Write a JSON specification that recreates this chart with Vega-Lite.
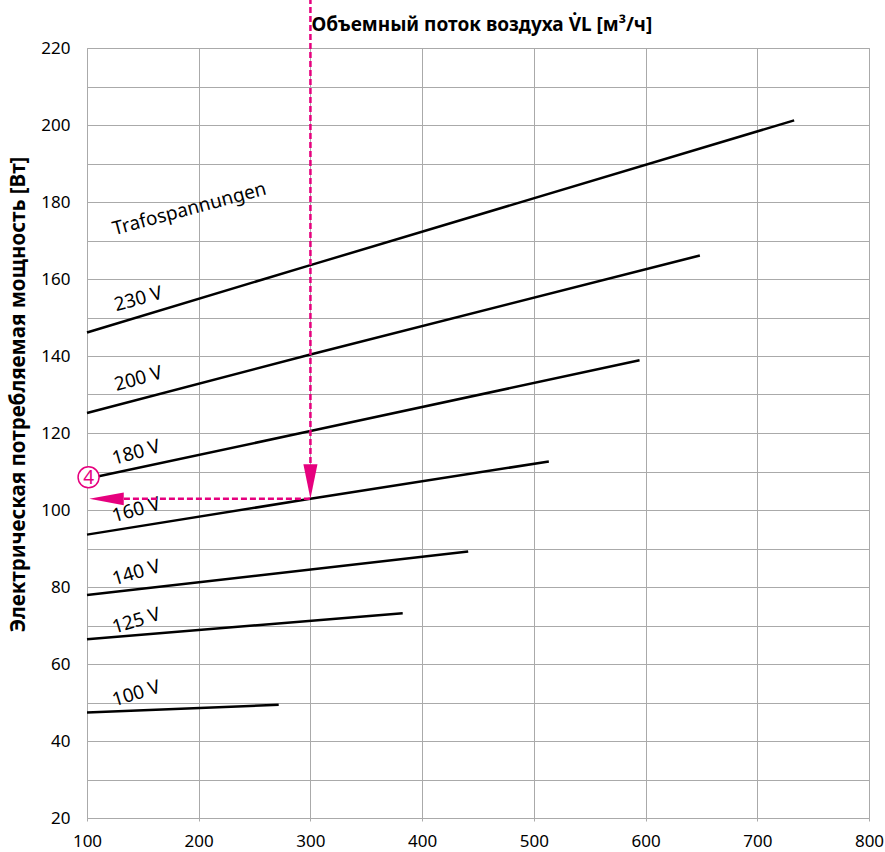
{
  "$schema": "https://vega.github.io/schema/vega-lite/v6.json",
  "autosize": "none",
  "width": 782,
  "height": 770,
  "padding": {"left": 87, "top": 48, "right": 16, "bottom": 34},
  "background": "white",
  "config": {
    "font": "Noto Sans",
    "view": {"stroke": "#aaaaaa", "strokeWidth": 1},
    "axis": {"labelFont": "Noto Sans", "labelColor": "#000000", "gridColor": "#aaaaaa", "gridWidth": 1, "gridOpacity": 1, "domain": false}
  },
  "datasets": {
    "lines": [
      {"series": "230 V", "x": 100, "y": 146.1},
      {"series": "230 V", "x": 300, "y": 163.6},
      {"series": "230 V", "x": 733, "y": 201.2},
      {"series": "200 V", "x": 100, "y": 125.2},
      {"series": "200 V", "x": 300, "y": 140.4},
      {"series": "200 V", "x": 648.6, "y": 166.1},
      {"series": "180 V", "x": 100, "y": 108.1},
      {"series": "180 V", "x": 300, "y": 120.5},
      {"series": "180 V", "x": 594.6, "y": 138.9},
      {"series": "160 V", "x": 100, "y": 93.6},
      {"series": "160 V", "x": 300, "y": 102.9},
      {"series": "160 V", "x": 513.4, "y": 112.6},
      {"series": "140 V", "x": 100, "y": 77.9},
      {"series": "140 V", "x": 441.2, "y": 89.2},
      {"series": "125 V", "x": 100, "y": 66.4},
      {"series": "125 V", "x": 382.6, "y": 73.2},
      {"series": "100 V", "x": 100, "y": 47.4},
      {"series": "100 V", "x": 271.6, "y": 49.4}
    ],
    "labels": [
      {"label": "Trafospannungen", "x": 191.6, "y": 178.2},
      {"label": "230 V", "x": 146, "y": 154.8},
      {"label": "200 V", "x": 146, "y": 134.1},
      {"label": "180 V", "x": 144, "y": 114.9},
      {"label": "160 V", "x": 144, "y": 100},
      {"label": "140 V", "x": 144, "y": 83.7},
      {"label": "125 V", "x": 144, "y": 71.2},
      {"label": "100 V", "x": 144, "y": 52.3}
    ],
    "guides": [
      {"seg": "v", "x": 300, "y": 233},
      {"seg": "v", "x": 300, "y": 110},
      {"seg": "h", "x": 300, "y": 102.9},
      {"seg": "h", "x": 125, "y": 102.9}
    ],
    "marker": [
      {"x": 101.4, "y": 108.5, "text": "4"}
    ],
    "arrowDown": [{"x": 300, "y": 102.9}],
    "arrowLeft": [{"x": 102, "y": 102.9}]
  },
  "encoding": {
    "x": {
      "field": "x", "type": "quantitative",
      "scale": {"domain": [100, 800], "nice": false, "zero": false},
      "axis": {
        "values": [100, 200, 300, 400, 500, 600, 700, 800],
        "grid": true,
        "ticks": true,
        "tickSize": 3,
        "tickColor": "#aaaaaa",
        "labelFontSize": 17,
        "labelPadding": 12,
        "labelFlush": false,
        "title": "Объемный поток воздуха V̇L [м³/ч]",
        "titleFont": "Noto Sans",
        "titleFontSize": 19,
        "titleFontWeight": "bold",
        "titleColor": "#000000",
        "titleAlign": "left",
        "titleAnchor": "start",
        "titleBaseline": "alphabetic",
        "titleX": 224,
        "titleY": -788
      }
    },
    "y": {
      "field": "y", "type": "quantitative",
      "scale": {"domain": [20, 220], "nice": false, "zero": false},
      "axis": {
        "values": [20, 30, 40, 50, 60, 70, 80, 90, 100, 110, 120, 130, 140, 150, 160, 170, 180, 190, 200, 210, 220],
        "labelExpr": "datum.value % 20 === 0 ? datum.label : ''",
        "grid": true,
        "ticks": false,
        "labelFontSize": 17,
        "labelPadding": 17,
        "labelFlush": false,
        "title": "Электрическая потребляемая мощность [Вт]",
        "titleFont": "Noto Sans",
        "titleFontSize": 20.5,
        "titleFontWeight": "bold",
        "titleColor": "#000000",
        "titleAngle": 270,
        "titleAlign": "center",
        "titleBaseline": "alphabetic",
        "titleX": -63,
        "titleY": 346
      }
    }
  },
  "layer": [
    {
      "data": {"name": "lines"},
      "mark": {"type": "line", "color": "#000000", "strokeWidth": 2.5, "strokeCap": "butt"},
      "encoding": {"detail": {"field": "series", "type": "nominal"}}
    },
    {
      "data": {"name": "labels"},
      "mark": {"type": "text", "font": "Noto Sans", "fontSize": 19, "color": "#000000", "align": "center", "baseline": "middle"},
      "encoding": {
        "text": {"field": "label", "type": "nominal"},
        "angle": {
          "field": "label", "type": "nominal", "legend": null,
          "scale": {
            "domain": ["Trafospannungen", "230 V", "200 V", "180 V", "160 V", "140 V", "125 V", "100 V"],
            "range": [345, 343, 345, 347, 349, 352, 354, 356]
          }
        }
      }
    },
    {
      "data": {"name": "guides"},
      "mark": {"type": "line", "color": "#e6007e", "strokeWidth": 2.5, "strokeDash": [6, 3], "clip": false},
      "encoding": {"detail": {"field": "seg", "type": "nominal"}}
    },
    {
      "data": {"name": "arrowDown"},
      "mark": {"type": "point", "shape": "M-0.47,-2.3L0.47,-2.3L0,0Z", "size": 900, "filled": true, "fill": "#e6007e", "strokeWidth": 0, "opacity": 1}
    },
    {
      "data": {"name": "arrowLeft"},
      "mark": {"type": "point", "shape": "M0,0L2.3,-0.42L2.3,0.42Z", "size": 900, "filled": true, "fill": "#e6007e", "strokeWidth": 0, "opacity": 1}
    },
    {
      "data": {"name": "marker"},
      "mark": {"type": "point", "shape": "circle", "size": 440, "filled": false, "fill": "#ffffff", "fillOpacity": 1, "stroke": "#e6007e", "strokeWidth": 1.5, "opacity": 1}
    },
    {
      "data": {"name": "marker"},
      "mark": {"type": "text", "font": "Noto Sans", "fontSize": 19, "color": "#e6007e", "align": "center", "baseline": "middle", "dy": 1},
      "encoding": {"text": {"field": "text", "type": "nominal"}}
    }
  ]
}
